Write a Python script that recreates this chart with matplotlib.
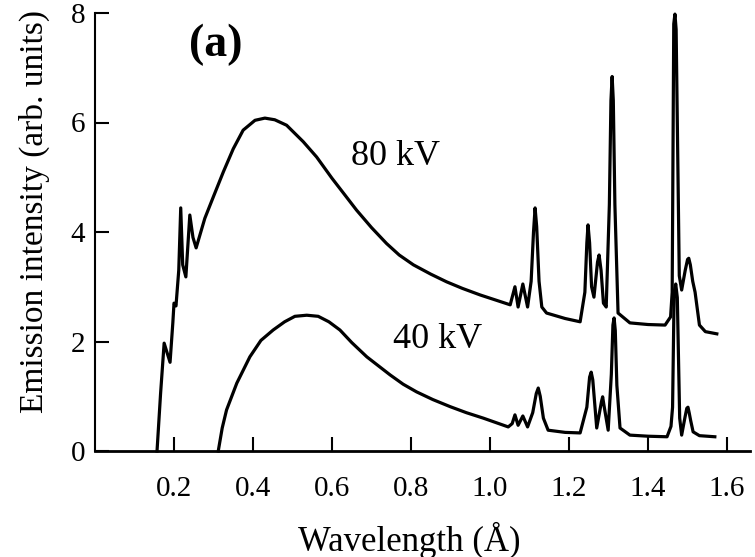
import numpy as np
import matplotlib
matplotlib.use('Agg')
import matplotlib.pyplot as plt

# 80 kV spectrum
wl_80 = [0.157, 0.166, 0.175, 0.190, 0.197, 0.200, 0.205, 0.212, 0.217, 0.222, 0.230, 0.240, 0.248, 0.256,
         0.278, 0.300, 0.325, 0.350, 0.375, 0.405, 0.430, 0.455, 0.485, 0.527, 0.561, 0.600, 0.630,
         0.662, 0.700, 0.738, 0.770, 0.806, 0.850, 0.890, 0.930, 0.975,
         1.051, 1.063, 1.071, 1.083, 1.095, 1.104, 1.110, 1.114, 1.118, 1.124, 1.131, 1.143, 1.190, 1.228,
         1.240, 1.245, 1.248, 1.252, 1.257, 1.263, 1.272, 1.276, 1.281, 1.287, 1.294, 1.302, 1.306, 1.309,
         1.312, 1.316, 1.324, 1.354, 1.400,
         1.443, 1.457, 1.461, 1.465, 1.468, 1.471, 1.479, 1.485, 1.494, 1.500, 1.503, 1.507, 1.513, 1.519,
         1.530, 1.545, 1.574]
int_80 = [0.0, 1.05, 1.97, 1.62, 2.34, 2.70, 2.65, 3.30, 4.44, 3.40, 3.18, 4.31, 3.90, 3.71,
          4.25, 4.65, 5.10, 5.52, 5.86, 6.04, 6.08, 6.05, 5.95, 5.65, 5.37, 4.98, 4.70,
          4.40, 4.08, 3.79, 3.58, 3.40, 3.23, 3.09, 2.97, 2.85,
          2.67, 3.00, 2.63, 3.05, 2.63, 3.10, 4.00, 4.44, 4.10, 3.10, 2.63, 2.52, 2.42, 2.36,
          2.90, 3.80, 4.13, 3.80, 3.00, 2.81, 3.45, 3.58, 3.30, 2.70, 2.63, 4.50, 6.40, 6.84,
          6.40, 4.50, 2.52, 2.34, 2.31,
          2.30, 2.45, 2.90, 7.80, 7.98, 7.70, 3.20, 2.94, 3.30, 3.50, 3.52, 3.40, 3.10, 2.90,
          2.30, 2.18, 2.14]

# 40 kV spectrum
wl_40 = [0.312, 0.322, 0.333, 0.359, 0.392, 0.420, 0.451, 0.480, 0.506, 0.536, 0.565, 0.592, 0.620,
         0.650, 0.688, 0.747, 0.780, 0.814, 0.855, 0.899, 0.940,
         0.983, 1.046, 1.056, 1.063, 1.071, 1.083, 1.095, 1.108, 1.117, 1.122, 1.127, 1.135, 1.147, 1.190, 1.228,
         1.245, 1.252, 1.256, 1.260, 1.270, 1.282, 1.285, 1.288, 1.299, 1.307, 1.311, 1.314, 1.317, 1.321, 1.329,
         1.354, 1.400,
         1.448, 1.458, 1.462, 1.466, 1.470, 1.474, 1.480, 1.485, 1.493, 1.498, 1.501, 1.504, 1.508, 1.514,
         1.530, 1.569]
int_40 = [0.0, 0.42, 0.75, 1.24, 1.72, 2.02, 2.21, 2.36, 2.46, 2.48, 2.46, 2.36, 2.21,
          1.98, 1.72, 1.39, 1.22, 1.08, 0.94, 0.81, 0.70,
          0.60, 0.44, 0.50, 0.66, 0.47, 0.64, 0.44, 0.70, 1.05, 1.15, 1.00, 0.60, 0.38, 0.34, 0.33,
          0.80, 1.35, 1.44, 1.30, 0.42, 0.90, 0.99, 0.85, 0.38, 1.40, 2.30, 2.43, 2.20, 1.20, 0.42,
          0.29, 0.27,
          0.26, 0.45, 0.80, 2.90, 3.05, 2.80, 0.60, 0.29, 0.60, 0.78, 0.80, 0.70, 0.55, 0.35,
          0.28, 0.26]

xticks = [0.2, 0.4, 0.6, 0.8, 1.0, 1.2, 1.4, 1.6]
yticks = [0, 2, 4, 6, 8]

plt.rcParams['font.family'] = ['Liberation Serif', 'DejaVu Serif']

fig = plt.figure(figsize=(7.55, 5.57), dpi=100)
ax = fig.add_axes([95/755, 106/557, 655/755, 438/557])

ax.plot(wl_80, int_80, color='black', lw=2.3, solid_joinstyle='round', clip_on=False)
ax.plot(wl_40, int_40, color='black', lw=2.3, solid_joinstyle='round', clip_on=False)

ax.set_xlim(0, 1.658)
ax.set_ylim(0, 8)
ax.set_xticks(xticks)
ax.set_xticklabels(['%.1f' % t for t in xticks])
ax.set_yticks(yticks)
ax.tick_params(axis='both', direction='in', length=10, width=1.5, labelsize=21)
ax.tick_params(axis='x', pad=18)
ax.tick_params(axis='y', pad=7)

for s in ['top', 'right']:
    ax.spines[s].set_visible(False)
ax.spines['left'].set_linewidth(1.5)
ax.spines['bottom'].set_linewidth(2)

ax.set_xlabel('Wavelength (Å)', fontsize=25)
ax.set_ylabel('Emission intensity (arb. units)', fontsize=24)
ax.xaxis.set_label_coords(0.48, -0.163)
ax.yaxis.set_label_coords(-0.068, 0.546)

ax.text(0.76, 5.37, '80 kV', fontsize=26, ha='center', va='center')
ax.text(0.866, 2.03, '40 kV', fontsize=26, ha='center', va='center')
ax.text(0.306, 7.42, '(a)', fontsize=33, fontweight='bold', ha='center', va='center')

fig.savefig('out.png', dpi=100)
